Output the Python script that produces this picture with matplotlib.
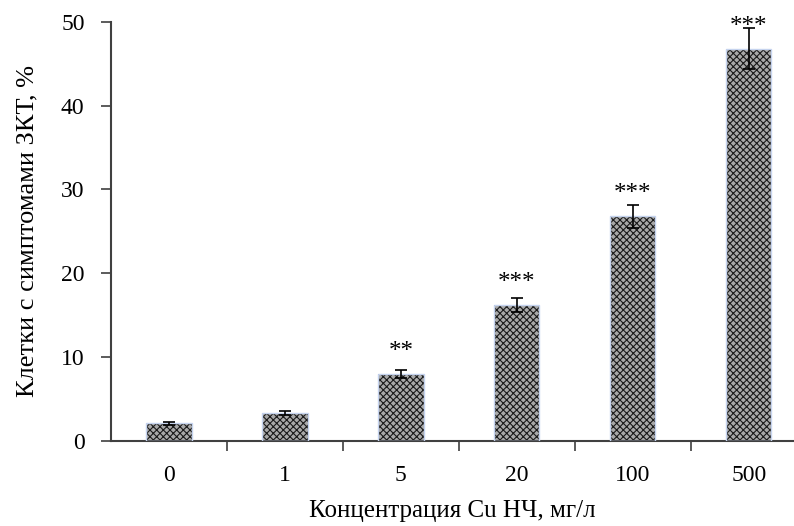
import numpy as np
import matplotlib.pyplot as plt

plt.rcParams['font.family'] = ['Liberation Serif', 'DejaVu Serif']
plt.rcParams['hatch.linewidth'] = 0.8

#---------
#DONNEES
#---------
conc = ['0', '1', '5', '20', '100', '500']
values = [2.1, 3.3, 8.0, 16.2, 26.8, 46.8]
errors = [0.15, 0.25, 0.45, 0.8, 1.4, 2.4]
stars = ['', '', '**', '***', '***', '***']

#---------
#FIGURE
#---------
fig = plt.figure(figsize=(7.94, 5.26), dpi=100)
ax = fig.add_axes([111/794, 85/526, 1 - 111/794, (441 - 21.7)/526])

x = np.arange(len(conc))
w = 0.39
# fond hachuré puis contour bleu clair
ax.bar(x, values, w, color='#a8a8a8', edgecolor='#1a1a1a', hatch='xxxxx', linewidth=0, zorder=2)
ax.bar(x, values, w, color='none', edgecolor='#c5d3ee', linewidth=1.0, zorder=3)
ax.errorbar(x, values, yerr=errors, fmt='none', ecolor='black', elinewidth=1.2,
            capsize=4, capthick=1.2, zorder=4)

for xi, v, s in zip(x, values, stars):
    if s:
        ax.text(xi, v + 1.9, s, ha='center', va='baseline', fontsize=18)

ax.set_xlim(-0.5, 5.39)
ax.set_ylim(0, 50)
ax.set_yticks(np.arange(0, 51, 10))
ax.set_xticks(x)
ax.set_xticklabels(conc)
ax.set_xticks(np.arange(-0.5, 5.5, 1.0)[1:], minor=True)
ax.tick_params(axis='x', which='major', length=0, pad=17, labelsize=17)
ax.tick_params(axis='x', which='minor', length=7, width=1.2, color='#404040', direction='out')
ax.tick_params(axis='y', length=7, width=1.2, color='#404040', labelsize=17, pad=12)

for side in ['top', 'right']:
    ax.spines[side].set_visible(False)
for side in ['left', 'bottom']:
    ax.spines[side].set_color('#404040')
    ax.spines[side].set_linewidth(1.5)

ax.set_xlabel('Концентрация Cu НЧ, мг/л', fontsize=18, labelpad=10)
ax.set_ylabel('Клетки с симптомами ЗКТ, %', fontsize=19, labelpad=16)

fig.savefig('out.png', dpi=100)
